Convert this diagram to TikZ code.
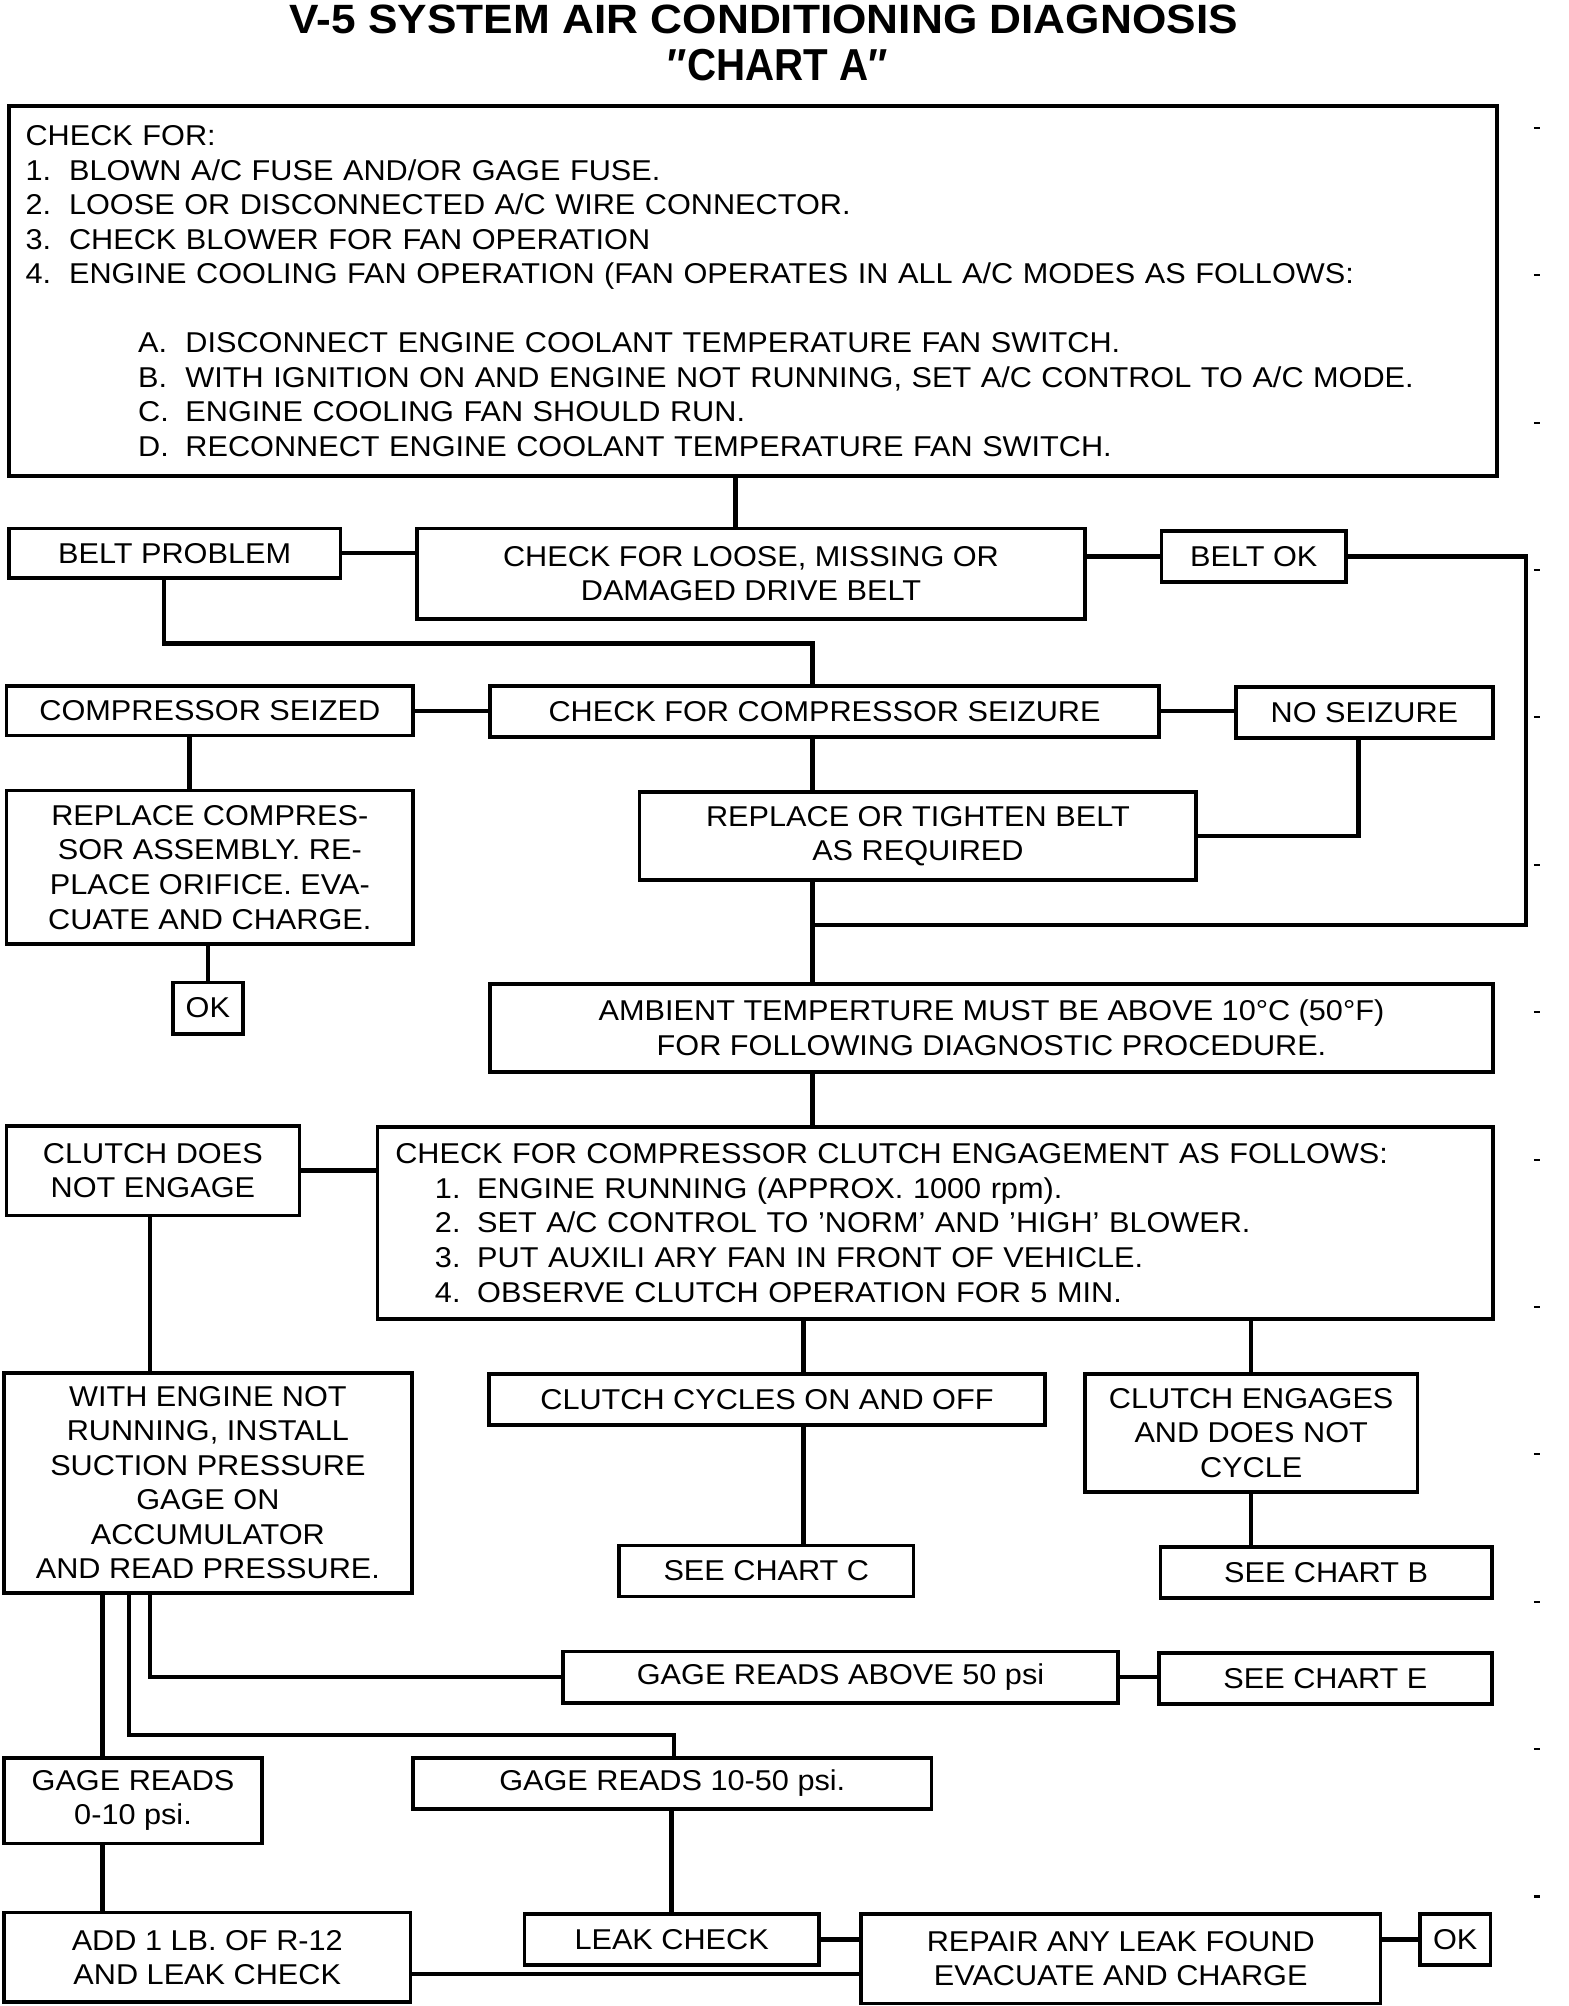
\documentclass[tikz,border=0pt]{standalone}
\usepackage{fontspec}
\setmainfont{Liberation Sans}[FakeStretch=1.07]
\newfontfamily\titrefont{Liberation Sans}[FakeStretch=1.08]
\newfontfamily\chartfont{Liberation Sans}[FakeStretch=0.9]
\begin{document}
\begin{tikzpicture}[x=0.5pt,y=0.5pt,
	boite/.style={draw,line width=1.4pt,inner sep=0pt,align=center,font=\fontsize{11.2}{13.5}\selectfont},
	liste/.style={boite,align=left},
	lien/.style={line width=1.7pt}]
	\useasboundingbox (0,0) rectangle (1226,-1568);
	% titre
	\node[font=\titrefont\bfseries\fontsize{16}{19}\selectfont,anchor=base] (titre) at (597,-26) {V-5 SYSTEM AIR CONDITIONING DIAGNOSIS};
	\node[font=\chartfont\bfseries\fontsize{17.5}{20}\selectfont,anchor=base] (chart) at (608,-63) {″CHART A″};
	% cadre du haut
	\node[liste,minimum height=144.5pt,inner xsep=6.5pt,text width=568.5pt] (verif) at (588.5,-227.5) {CHECK FOR:\\
		\makebox[17pt][l]{1.}BLOWN A/C FUSE AND/OR GAGE FUSE.\\
		\makebox[17pt][l]{2.}LOOSE OR DISCONNECTED A/C WIRE CONNECTOR.\\
		\makebox[17pt][l]{3.}CHECK BLOWER FOR FAN OPERATION\\
		\makebox[17pt][l]{4.}ENGINE COOLING FAN OPERATION (FAN OPERATES IN ALL A/C MODES AS FOLLOWS:\\[13.5pt]
		\hspace*{44pt}\makebox[18.5pt][l]{A.}DISCONNECT ENGINE COOLANT TEMPERATURE FAN SWITCH.\\
		\hspace*{44pt}\makebox[18.5pt][l]{B.}WITH IGNITION ON AND ENGINE NOT RUNNING, SET A/C CONTROL TO A/C MODE.\\
		\hspace*{44pt}\makebox[18.5pt][l]{C.}ENGINE COOLING FAN SHOULD RUN.\\
		\hspace*{44pt}\makebox[18.5pt][l]{D.}RECONNECT ENGINE COOLANT TEMPERATURE FAN SWITCH.};
	% courroie
	\node[boite,minimum width=129.5pt,minimum height=19.5pt] (beltpb) at (136.5,-432.5) {BELT PROBLEM};
	\node[boite,minimum width=261pt,minimum height=35.5pt] (beltchk) at (587,-448.5) {CHECK FOR LOOSE, MISSING OR\\DAMAGED DRIVE BELT};
	\node[boite,minimum width=72pt,minimum height=20pt] (beltok) at (980,-435) {BELT OK};
	% compresseur
	\node[boite,minimum width=159pt,minimum height=19.5pt] (seized) at (164,-555.5) {COMPRESSOR SEIZED};
	\node[boite,minimum width=261.5pt,minimum height=20pt] (seizchk) at (644.5,-556) {CHECK FOR COMPRESSOR SEIZURE};
	\node[boite,minimum width=100.5pt,minimum height=20pt] (noseiz) at (1066.5,-557) {NO SEIZURE};
	\node[boite,minimum width=159pt,minimum height=60pt] (replcomp) at (164,-678) {REPLACE COMPRES-\\SOR ASSEMBLY. RE-\\PLACE ORIFICE. EVA-\\CUATE AND CHARGE.};
	\node[boite,minimum width=27.5pt,minimum height=20pt] (okun) at (162.5,-788) {OK};
	\node[boite,minimum width=217.5pt,minimum height=34.5pt] (replbelt) at (717.5,-653.5) {REPLACE OR TIGHTEN BELT\\AS REQUIRED};
	\node[boite,minimum width=392pt,minimum height=34.5pt] (ambient) at (775,-803.5) {AMBIENT TEMPERTURE MUST BE ABOVE 10°C (50°F)\\FOR FOLLOWING DIAGNOSTIC PROCEDURE.};
	% embrayage
	\node[boite,minimum width=114.5pt,minimum height=35pt] (noengage) at (119.5,-915) {CLUTCH DOES\\NOT ENGAGE};
	\node[liste,minimum height=75pt,inner xsep=7pt,text width=422pt] (clutchchk) at (731,-956) {CHECK FOR COMPRESSOR CLUTCH ENGAGEMENT AS FOLLOWS:\\
		\hspace*{15.5pt}\makebox[16.5pt][l]{1.}ENGINE RUNNING (APPROX. 1000 rpm).\\
		\hspace*{15.5pt}\makebox[16.5pt][l]{2.}SET A/C CONTROL TO 'NORM' AND 'HIGH' BLOWER.\\
		\hspace*{15.5pt}\makebox[16.5pt][l]{3.}PUT AUXILI ARY FAN IN FRONT OF VEHICLE.\\
		\hspace*{15.5pt}\makebox[16.5pt][l]{4.}OBSERVE CLUTCH OPERATION FOR 5 MIN.};
	\node[boite,minimum width=159.5pt,minimum height=86pt] (withengine) at (162.5,-1159) {WITH ENGINE NOT\\RUNNING, INSTALL\\SUCTION PRESSURE\\GAGE ON\\ACCUMULATOR\\AND READ PRESSURE.};
	\node[boite,minimum width=217.5pt,minimum height=20pt] (cycles) at (599.5,-1094) {CLUTCH CYCLES ON AND OFF};
	\node[boite,minimum width=130pt,minimum height=46pt] (engages) at (978,-1120) {CLUTCH ENGAGES\\AND DOES NOT\\CYCLE};
	\node[boite,minimum width=115pt,minimum height=20pt] (chartc) at (599,-1228) {SEE CHART C};
	\node[boite,minimum width=129.5pt,minimum height=20pt] (chartb) at (1036.5,-1229) {SEE CHART B};
	% manometre
	\node[boite,minimum width=217pt,minimum height=20pt] (above) at (657,-1311) {GAGE READS ABOVE 50 psi};
	\node[boite,minimum width=130pt,minimum height=20pt] (charte) at (1036,-1312) {SEE CHART E};
	\node[boite,minimum width=202.5pt,minimum height=20pt] (moyen) at (525.5,-1394) {GAGE READS 10-50 psi.};
	\node[boite,minimum width=101pt,minimum height=33.5pt] (bas) at (104,-1407.5) {GAGE READS\\0-10 psi.};
	\node[boite,minimum width=159pt,minimum height=35pt] (ajout) at (162,-1530) {ADD 1 LB. OF R-12\\AND LEAK CHECK};
	\node[boite,minimum width=115pt,minimum height=20pt] (fuite) at (525,-1516) {LEAK CHECK};
	\node[boite,minimum width=203pt,minimum height=35pt] (repair) at (876,-1531) {REPAIR ANY LEAK FOUND\\EVACUATE AND CHARGE};
	\node[boite,minimum width=27.5pt,minimum height=20pt] (okdeux) at (1137.5,-1516) {OK};
	% points de passage des liaisons
	\coordinate (va) at (575,0);
	\coordinate (axe) at (635,0);
	\coordinate (vb) at (128,0);
	\coordinate (vc) at (148,0);
	\coordinate (vd) at (1062,0);
	\coordinate (ve) at (117,0);
	\coordinate (vf) at (628,0);
	\coordinate (vg) at (101,0);
	\coordinate (vh) at (80,0);
	\coordinate (droite) at (1193,-723);
	\coordinate (jonction) at (635,-723);
	\coordinate (coudeun) at (635,-503);
	\coordinate (coudedeux) at (527,-1356);
	% liaisons
	\draw[lien] (verif.south -| va) -- (beltchk.north -| va);
	\draw[lien] (beltpb.east) -- (beltpb.east -| beltchk.west);
	\draw[lien] (beltok.west -| beltchk.east) -- (beltok.west);
	\draw[lien] (beltok.east) -| (droite) -- (jonction);
	\draw[lien] (beltpb.south -| vb) |- (coudeun) -- (seizchk.north -| coudeun);
	\draw[lien] (seized.east) -- (seized.east -| seizchk.west);
	\draw[lien] (seizchk.east) -- (seizchk.east -| noseiz.west);
	\draw[lien] (seized.south -| vc) -- (replcomp.north -| vc);
	\draw[lien] (replcomp.south -| okun) -- (okun.north);
	\draw[lien] (seizchk.south -| axe) -- (replbelt.north -| axe);
	\draw[lien] (noseiz.south -| vd) |- (replbelt.east);
	\draw[lien] (replbelt.south -| axe) -- (ambient.north -| axe);
	\draw[lien] (ambient.south -| axe) -- (clutchchk.north -| axe);
	\draw[lien] (noengage.east) -- (noengage.east -| clutchchk.west);
	\draw[lien] (noengage.south -| ve) -- (withengine.north -| ve);
	\draw[lien] (clutchchk.south -| vf) -- (cycles.north -| vf);
	\draw[lien] (clutchchk.south -| engages) -- (engages.north);
	\draw[lien] (cycles.south -| vf) -- (chartc.north -| vf);
	\draw[lien] (engages.south) -- (chartb.north -| engages);
	\draw[lien] (withengine.south -| ve) |- (above.west);
	\draw[lien] (above.east) -- (above.east -| charte.west);
	\draw[lien] (withengine.south -| vg) |- (coudedeux) -- (moyen.north -| coudedeux);
	\draw[lien] (withengine.south -| vh) -- (bas.north -| vh);
	\draw[lien] (bas.south -| vh) -- (ajout.north -| vh);
	\draw[lien] (moyen.south -| fuite) -- (fuite.north);
	\draw[lien] (fuite.east) -- (fuite.east -| repair.west);
	\draw[lien] (okdeux.west -| repair.east) -- (okdeux.west);
	\draw[lien] ([yshift=-6.5pt]ajout.east) -- ([yshift=-6.5pt]ajout.east -| repair.west);
	% petits traits de marge
	\foreach \i in {0,...,12}
		\draw[line width=0.8pt] (1199,{-100-115.2*\i}) -- (1204,{-100-115.2*\i});
\end{tikzpicture}
\end{document}
